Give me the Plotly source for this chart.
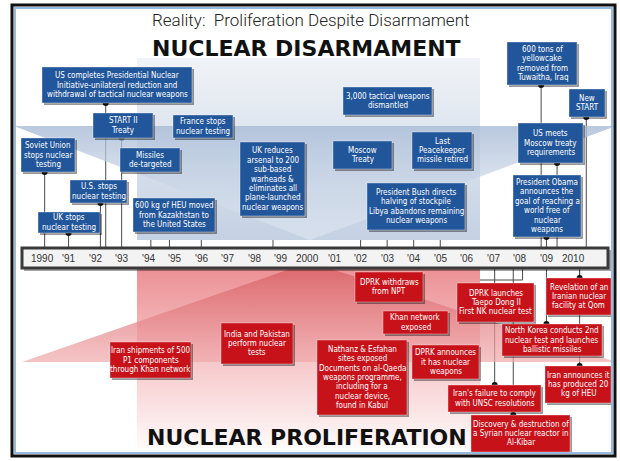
import plotly.graph_objects as go

# ---------------- data ----------------
tick_years = list(range(1990, 2011))
tick_labels = ["1990", "'91", "'92", "'93", "'94", "'95", "'96", "'97", "'98", "'99",
               "2000", "'01", "'02", "'03", "'04", "'05", "'06", "'07", "'08", "'09", "2010"]

disarm_years = [1992.4, 1993.0, 1996.0, 1990.1, 1994.1, 1992.2, 1991.0, 1994.8, 1998.7,
                2003.0, 2002.0, 2005.0, 2004.0, 2008.8, 2010.5, 2009.4, 2009.0]
disarm_labels = [
    "US completes Presidential Nuclear<br>Initiative-unilateral reduction and<br>withdrawal of tactical nuclear weapons",
    "START II<br>Treaty",
    "France stops<br>nuclear testing",
    "Soviet Union<br>stops nuclear<br>testing",
    "Missiles<br>de-targeted",
    "U.S. stops<br>nuclear testing",
    "UK stops<br>nuclear testing",
    "600 kg of HEU moved<br>from Kazakhstan to<br>the United States",
    "UK reduces<br>arsenal to 200<br>sub-based<br>warheads &amp;<br>eliminates all<br>plane-launched<br>nuclear weapons",
    "3,000 tactical weapons<br>dismantled",
    "Moscow<br>Treaty",
    "Last<br>Peacekeeper<br>missile retired",
    "President Bush directs<br>halving of stockpile<br>Libya abandons remaining<br>nuclear weapons",
    "600 tons of<br>yellowcake<br>removed from<br>Tuwaitha, Iraq",
    "New<br>START",
    "US meets<br>Moscow treaty<br>requirements",
    "President Obama<br>announces the<br>goal of reaching a<br>world free of<br>nuclear<br>weapons",
]

prolif_years = [1994.1, 1998.1, 2003.0, 2004.1, 2002.0, 2005.0, 2006.0, 2010.25, 2009.0,
                2010.25, 2007.05, 2007.75]
prolif_labels = [
    "Iran shipments of 500<br>P1 components<br>through Khan network",
    "India and Pakistan<br>perform nuclear<br>tests",
    "DPRK withdraws<br>from NPT",
    "Khan network<br>exposed",
    "Nathanz &amp; Esfahan<br>sites exposed<br>Documents on al-Qaeda<br>weapons programme,<br>including for a<br>nuclear device,<br>found in Kabul",
    "DPRK announces<br>it has nuclear<br>weapons",
    "DPRK launches<br>Taepo Dong II<br>First NK nuclear test",
    "Revelation of an<br>Iranian nuclear<br>facility at Qom",
    "North Korea conducts 2nd<br>nuclear test and launches<br>ballistic missiles",
    "Iran announces it<br>has produced 20<br>kg of HEU",
    "Iran's failure to comply<br>with UNSC resolutions",
    "Discovery &amp; destruction of<br>a Syrian nuclear reactor in<br>Al-Kibar",
]
unsc_span = [2006.0, 2008.1]

# ---------------- layout (pixel positions of boxes: x0, x1, y0, y1) ----------------
disarm_boxes = [(42, 192, 67, 103), (93, 153, 113, 138), (173, 233, 115, 138), (21, 75, 138, 172),
                (120, 180, 148, 172), (70, 127, 180, 203), (38, 100, 212, 233), (133, 215, 198, 232),
                (240, 305, 142, 216), (343, 432, 87, 115), (333, 392, 141, 169), (412, 472, 132, 169),
                (367, 465, 183, 230), (507, 577, 42, 85), (569, 605, 89, 117), (518, 583, 123, 163),
                (513, 581, 175, 237)]
prolif_boxes = [(110, 191, 342, 378), (221, 293, 323, 364), (355, 423, 272, 302), (383, 448, 311, 334),
                (317, 407, 340, 415), (412, 479, 345, 379), (457, 534, 283, 322), (546, 611, 278, 315),
                (502, 602, 324, 356), (545, 611, 366, 403), (448, 541, 385, 412), (471, 570, 415, 452)]

W, H = 620, 461
BAR_TOP, BAR_BOT = 248, 268
PX_PER_YEAR = 26.55
X0_YEAR = 1990 - 42 / PX_PER_YEAR
BLUE = "rgb(34,86,155)"
RED = "rgb(200,18,26)"
BOXFONT = "Liberation Sans Narrow, DejaVu Sans Condensed, Arial Narrow, Liberation Sans, sans-serif"
LINE_STEP = 9.4

fig = go.Figure()

# ---- background wedges (pixel axis x2) ----
fig.add_trace(go.Scatter(x=[137, 480, 480, 137, 137], y=[58, 58, 240, 240, 58], xaxis="x2", yaxis="y",
                         mode="lines", line=dict(width=0), fill="toself", hoverinfo="skip",
                         fillgradient=dict(type="vertical", start=58, stop=240,
                                           colorscale=[[0, "rgba(240,243,247,1)"], [1, "rgba(196,209,227,1)"]])))
fig.add_trace(go.Scatter(x=[14, 616, 310, 14], y=[126, 126, 240, 126], xaxis="x2", yaxis="y",
                         mode="lines", line=dict(width=0), fill="toself", hoverinfo="skip",
                         fillgradient=dict(type="vertical", start=126, stop=240,
                                           colorscale=[[0, "rgba(168,187,214,0.8)"], [1, "rgba(230,236,245,0.5)"]])))
fig.add_trace(go.Scatter(x=[137, 480, 480, 137, 137], y=[268, 268, 448, 448, 268], xaxis="x2", yaxis="y",
                         mode="lines", line=dict(width=0), fill="toself", hoverinfo="skip",
                         fillgradient=dict(type="vertical", start=268, stop=448,
                                           colorscale=[[0, "rgba(236,145,149,1)"], [1, "rgba(255,250,250,1)"]])))
fig.add_trace(go.Scatter(x=[22, 310, 616, 22], y=[362, 262, 362, 362], xaxis="x2", yaxis="y",
                         mode="lines", line=dict(width=0), fill="toself", hoverinfo="skip",
                         fillgradient=dict(type="vertical", start=262, stop=362,
                                           colorscale=[[0, "rgba(216,95,100,0.85)"], [1, "rgba(240,170,172,0.7)"]])))

# ---- connectors ----
cx, cy = [], []
for yr, b in zip(disarm_years, disarm_boxes):
    cx += [yr, yr, None]
    cy += [b[3], BAR_TOP, None]
for yr, b in zip(prolif_years, prolif_boxes):
    cx += [yr, yr, None]
    cy += [BAR_BOT, b[2], None]
cx += [unsc_span[0], unsc_span[0], unsc_span[1], unsc_span[1], None]
cy += [BAR_BOT, 280, 280, BAR_BOT, None]
fig.add_trace(go.Scatter(x=cx, y=cy, mode="lines", line=dict(color="#4a4a4a", width=1),
                         hoverinfo="skip"))
fig.add_trace(go.Scatter(x=disarm_years + prolif_years,
                         y=[b[3] for b in disarm_boxes] + [b[2] for b in prolif_boxes],
                         mode="markers", marker=dict(color="#111", size=6), hoverinfo="skip"))

shapes = []
annotations = []


def add_box(b, color, text):
    x0, x1, y0, y1 = b
    shapes.append(dict(type="rect", xref="x2", yref="y", x0=x0 + 2, x1=x1 + 2, y0=y0 + 2, y1=y1 + 2,
                       fillcolor="rgba(0,0,0,0.4)", line=dict(width=0), layer="above"))
    shapes.append(dict(type="rect", xref="x2", yref="y", x0=x0, x1=x1, y0=y0, y1=y1,
                       fillcolor=color, line=dict(color="rgba(255,255,255,0.35)", width=1), layer="above"))
    lines = text.split("<br>")
    n = len(lines)
    cyy = (y0 + y1) / 2
    for i, ln in enumerate(lines):
        annotations.append(dict(xref="x2", yref="y", x=(x0 + x1) / 2, y=cyy + (i - (n - 1) / 2) * LINE_STEP,
                                text=ln, showarrow=False,
                                font=dict(family=BOXFONT, size=8, color="white"),
                                xanchor="center", yanchor="middle", align="center"))


for lab, b in zip(disarm_labels, disarm_boxes):
    add_box(b, BLUE, lab)
for lab, b in zip(prolif_labels, prolif_boxes):
    add_box(b, RED, lab)

# ---- timeline bar ----
shapes.append(dict(type="rect", xref="x2", yref="y", x0=24, x1=611, y0=250, y1=271,
                   fillcolor="rgba(0,0,0,0.35)", line=dict(width=0), layer="above"))
shapes.append(dict(type="rect", xref="x2", yref="y", x0=22, x1=608, y0=BAR_TOP, y1=BAR_BOT,
                   fillcolor="#f3f3f3", line=dict(color="#3a3a3a", width=3), layer="above"))
for yr, lab in zip(tick_years, tick_labels):
    annotations.append(dict(xref="x", yref="y", x=yr, y=(BAR_TOP + BAR_BOT) / 2 + 0.5, text=lab,
                            showarrow=False, font=dict(family="Liberation Sans, Arial, sans-serif",
                                                       size=10, color="#333")))

# ---- frame ----
shapes.append(dict(type="rect", xref="x2", yref="y", x0=15, x1=612, y0=8, y1=453,
                   line=dict(color="rgb(150,185,225)", width=2), layer="above"))
shapes.append(dict(type="rect", xref="x2", yref="y", x0=12, x1=615, y0=5, y1=456,
                   line=dict(color="#111", width=3), layer="above"))

# ---- titles ----
annotations.append(dict(xref="x2", yref="y", x=310, y=20, text="Reality:  Proliferation Despite Disarmament",
                        showarrow=False, font=dict(family="Roboto, Liberation Sans, sans-serif", size=17,
                                                   color="#222", weight=300)))
annotations.append(dict(xref="x2", yref="y", x=306, y=48, text="<b>NUCLEAR DISARMAMENT</b>",
                        showarrow=False, font=dict(family="DejaVu Sans, sans-serif", size=22, color="#111")))
annotations.append(dict(xref="x2", yref="y", x=307, y=437, text="<b>NUCLEAR PROLIFERATION</b>",
                        showarrow=False, font=dict(family="DejaVu Sans, sans-serif", size=22, color="#111")))

fig.update_layout(
    width=W, height=H, autosize=False,
    margin=dict(l=0, r=0, t=0, b=0, pad=0),
    paper_bgcolor="white", plot_bgcolor="white",
    showlegend=False,
    xaxis=dict(range=[X0_YEAR, X0_YEAR + W / PX_PER_YEAR], visible=False, fixedrange=True),
    xaxis2=dict(range=[0, W], visible=False, overlaying="x", anchor="y", fixedrange=True),
    yaxis=dict(range=[H, 0], visible=False, fixedrange=True),
    shapes=shapes, annotations=annotations,
)

fig.write_html("out.html", config={"displayModeBar": False},
               post_script="document.body.style.margin='0';")
